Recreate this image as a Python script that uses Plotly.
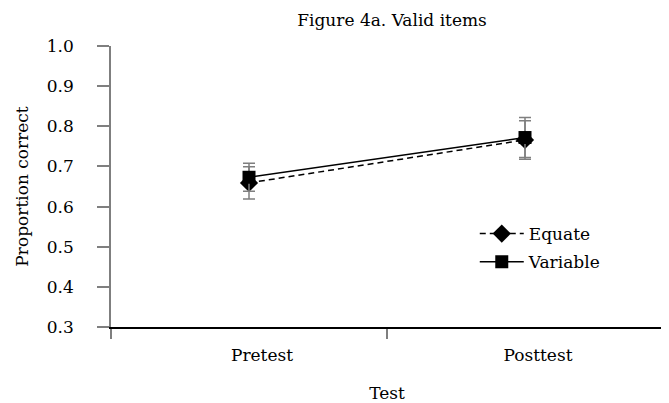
import plotly.graph_objects as go

tests = ["Pretest", "Posttest"]
equate = [0.659, 0.766]
equate_err = [0.040, 0.048]
variable = [0.673, 0.772]
variable_err = [0.035, 0.050]
yticks = [0.3, 0.4, 0.5, 0.6, 0.7, 0.8, 0.9, 1.0]

FONT = "DejaVu Serif"

fig = go.Figure()
fig.add_trace(go.Scatter(
    x=tests, y=equate, name="Equate", mode="lines+markers", legendgroup="a",
    line=dict(color="black", width=1.5, dash="6px,4px"),
    marker=dict(symbol="diamond", size=14, color="black"),
    error_y=dict(type="data", array=equate_err, visible=True,
                 color="#7f7f7f", thickness=1.5, width=6),
))
fig.add_trace(go.Scatter(
    x=tests, y=variable, name="Variable", mode="lines+markers", legendgroup="b",
    line=dict(color="black", width=1.5),
    marker=dict(symbol="square", size=13, color="black"),
    error_y=dict(type="data", array=variable_err, visible=True,
                 color="#7f7f7f", thickness=1.5, width=6),
))

# page body has an 8px margin: size the figure so the plot lands where it should
fig.update_layout(
    template="none",
    width=661, height=395,
    margin=dict(l=103, r=6, t=38, b=76, autoexpand=False),
    paper_bgcolor="white", plot_bgcolor="white",
    font=dict(family=FONT, size=17, color="black"),
    title=dict(text="Figure 4a. Valid items", x=0.581, xanchor="center",
               y=0.97, yanchor="middle", font=dict(size=17)),
    showlegend=True,
    legend=dict(x=0.659, y=0.395, xanchor="left", yanchor="top",
                bgcolor="rgba(0,0,0,0)", font=dict(size=17),
                itemwidth=44, tracegroupgap=3),
    xaxis=dict(type="category", range=[-0.5, 1.5], tickson="boundaries",
               automargin=False,
               showline=True, linecolor="black", linewidth=1.5,
               ticks="outside", ticklen=10, tickcolor="#7f7f7f", tickwidth=1.5,
               ticklabelshift=13, ticklabelstandoff=12,
               showgrid=False, zeroline=False,
               title=dict(text="Test", standoff=25, font=dict(size=17))),
    yaxis=dict(range=[0.3, 1.0], tickvals=yticks, automargin=False,
               ticktext=[f"{v:.1f}" for v in yticks],
               showline=True, linecolor="#7f7f7f", linewidth=1.5,
               ticks="outside", ticklen=12, tickcolor="#7f7f7f", tickwidth=1.5,
               ticklabelstandoff=20,
               showgrid=False, zeroline=False,
               title=dict(text="Proportion correct", standoff=14, font=dict(size=17))),
)

fig.write_html("out.html")
